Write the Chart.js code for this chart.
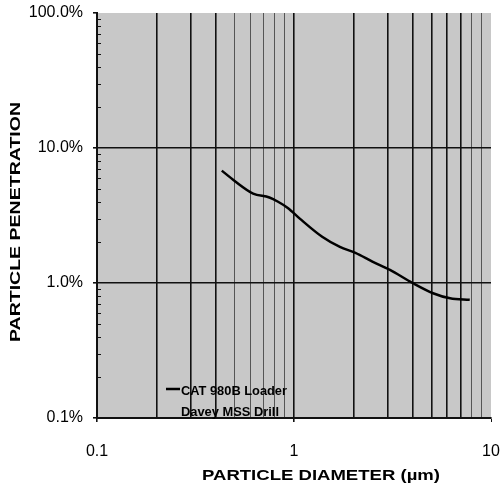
<!DOCTYPE html>
<html>
<head>
<meta charset="utf-8">
<script src="https://cdn.jsdelivr.net/npm/chart.js@4/dist/chart.umd.min.js"></script>
<style>
  html, body { margin: 0; padding: 0; background: #fff; }
  #wrap { width: 502px; height: 495px; }
</style>
</head>
<body>
<div id="wrap"><canvas id="chart"></canvas></div>
<script>
// Particle penetration vs diameter
const seriesNames = ['CAT 980B Loader', 'Davey MSS Drill'];
const diameters = [0.43, 0.5, 0.62, 0.75, 0.83, 0.93, 1.07, 1.39, 1.71, 2.05, 2.5, 3.07, 4.0, 5.08, 6.2, 7.8];
const catLoader = [6.8, 5.7, 4.6, 4.3, 4.0, 3.6, 3.0, 2.2, 1.85, 1.67, 1.44, 1.25, 1.0, 0.84, 0.77, 0.75];
const daveyDrill = []; // no visible trace in the figure

const xTicks = [0.1, 0.2, 0.3, 0.4, 0.5, 0.6, 0.7, 0.8, 0.9, 1, 2, 3, 4, 5, 6, 7, 8, 9, 10];
const xLabels = [0.1, 1, 10];
const yTicks = [0.1, 0.2, 0.3, 0.4, 0.5, 0.6, 0.7, 0.8, 0.9, 1, 2, 3, 4, 5, 6, 7, 8, 9,
                10, 20, 30, 40, 50, 60, 70, 80, 90, 100];
const yLabels = [0.1, 1, 10, 100];

const FONT = '"Liberation Sans", Arial, sans-serif';
const INK = '#111';

const isOneOf = (v, list) => list.some(t => Math.abs(t - v) < 1e-9);

// grey plot background, inner minor ticks, titles and the in-plot legend
const decor = {
  id: 'decor',
  beforeDraw(chart) {
    const { ctx, chartArea: a } = chart;
    ctx.save();
    ctx.fillStyle = '#c8c8c8';
    ctx.fillRect(a.left, a.top, a.right - a.left, a.bottom - a.top);
    ctx.restore();
  },
  afterDraw(chart) {
    const { ctx, chartArea: a, scales } = chart;
    ctx.save();
    ctx.strokeStyle = INK;
    ctx.lineWidth = 1;
    // minor ticks inside the left axis
    yTicks.forEach(v => {
      if (isOneOf(v, yLabels)) return;
      const y = Math.round(scales.y.getPixelForValue(v)) + 0.5;
      ctx.beginPath();
      ctx.moveTo(a.left, y);
      ctx.lineTo(a.left + 4, y);
      ctx.stroke();
    });

    // axis titles, stretched to the wide scanned lettering
    ctx.fillStyle = '#000';
    ctx.textAlign = 'center';
    ctx.textBaseline = 'middle';
    ctx.font = 'bold 15px ' + FONT;
    const xt = 'PARTICLE DIAMETER (\u00b5m)';
    let w = ctx.measureText(xt).width;
    ctx.save();
    ctx.translate(321, 476);
    ctx.scale(238 / w, 1);
    ctx.fillText(xt, 0, 0);
    ctx.restore();

    const yt = 'PARTICLE PENETRATION';
    w = ctx.measureText(yt).width;
    ctx.save();
    ctx.translate(16, 222);
    ctx.rotate(-Math.PI / 2);
    ctx.scale(240 / w, 1);
    ctx.fillText(yt, 0, 0);
    ctx.restore();

    // legend inside the plot, lower left
    ctx.font = 'bold 13px ' + FONT;
    ctx.textAlign = 'left';
    const rows = [391, 412];
    chart.data.datasets.forEach((ds, i) => {
      const y = rows[i];
      if (ds.data.length) {
        ctx.strokeStyle = ds.borderColor;
        ctx.lineWidth = 2.5;
        ctx.beginPath();
        ctx.moveTo(166, y - 2);
        ctx.lineTo(180, y - 2);
        ctx.stroke();
      }
      ctx.fillStyle = '#000';
      const tw = ctx.measureText(ds.label).width;
      ctx.save();
      ctx.translate(181, y);
      ctx.scale((i === 0 ? 106 : 98) / tw, 1);
      ctx.fillText(ds.label, 0, 0);
      ctx.restore();
    });
    ctx.restore();
  }
};

new Chart(document.getElementById('chart'), {
  type: 'line',
  data: {
    datasets: [
      {
        label: seriesNames[0],
        data: diameters.map((d, i) => ({ x: d, y: catLoader[i] })),
        borderColor: '#000',
        borderWidth: 2.5,
        pointRadius: 0,
        cubicInterpolationMode: 'monotone',
        fill: false
      },
      {
        label: seriesNames[1],
        data: daveyDrill,
        borderColor: '#000',
        borderWidth: 2.5,
        pointRadius: 0,
        fill: false
      }
    ]
  },
  options: {
    responsive: true,
    maintainAspectRatio: false,
    animation: false,
    layout: { padding: { left: 0, top: 13, right: 11, bottom: 0 } },
    plugins: {
      legend: { display: false },
      tooltip: { enabled: false }
    },
    scales: {
      x: {
        type: 'logarithmic',
        min: 0.1,
        max: 10,
        afterBuildTicks: scale => { scale.ticks = xTicks.map(v => ({ value: v })); },
        afterFit: scale => {
          scale.height = 77;
          scale.paddingLeft = 0;
          scale.paddingRight = 0;
        },
        border: { display: true, color: INK, width: 2 },
        grid: {
          color: c => {
            const v = c.tick ? c.tick.value : 0;
            if (v <= 0.1 || v >= 10) return 'rgba(0,0,0,0)';
            if ((v > 0.45 && v < 0.95) || v > 7.5) return '#555';
            return INK;
          },
          lineWidth: c => {
            const v = c.tick ? c.tick.value : 0;
            return ((v > 0.45 && v < 0.95) || v > 7.5) ? 1 : 1.6;
          },
          tickColor: c => (c.tick && isOneOf(c.tick.value, xLabels)) ? INK : 'rgba(0,0,0,0)',
          tickLength: 4
        },
        ticks: {
          autoSkip: false,
          maxRotation: 0,
          padding: 20,
          color: '#000',
          font: { family: FONT, size: 16 },
          callback: v => isOneOf(v, xLabels) ? String(v) : ''
        }
      },
      y: {
        type: 'logarithmic',
        min: 0.1,
        max: 100,
        afterBuildTicks: scale => { scale.ticks = yTicks.map(v => ({ value: v })); },
        afterFit: scale => {
          scale.width = 97;
          scale.paddingTop = 0;
          scale.paddingBottom = 0;
        },
        border: { display: true, color: INK, width: 2 },
        grid: {
          color: c => (c.tick && (isOneOf(c.tick.value, [1, 10]))) ? INK : 'rgba(0,0,0,0)',
          lineWidth: 1.6,
          tickColor: c => (c.tick && isOneOf(c.tick.value, yLabels)) ? INK : 'rgba(0,0,0,0)',
          tickLength: 4
        },
        ticks: {
          autoSkip: false,
          padding: 10,
          color: '#000',
          font: { family: FONT, size: 16 },
          callback: v => isOneOf(v, yLabels) ? v.toFixed(1) + '%' : ''
        }
      }
    }
  },
  plugins: [decor]
});
</script>
</body>
</html>
